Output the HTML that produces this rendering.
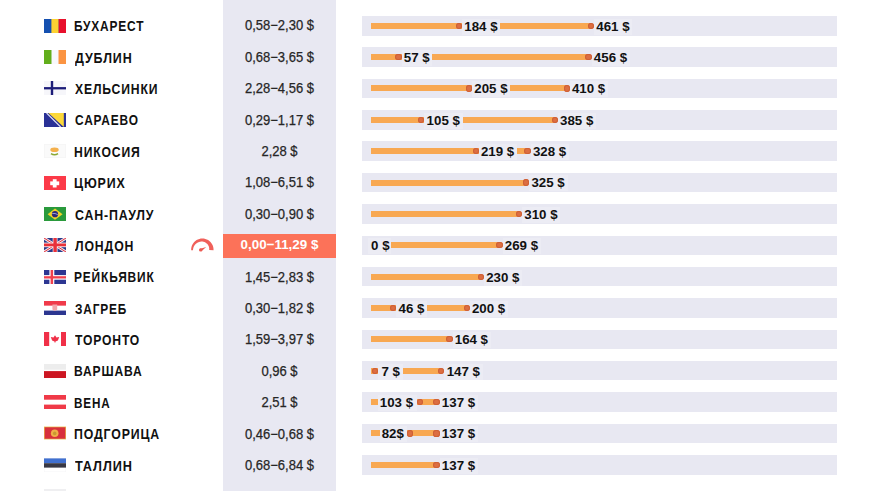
<!DOCTYPE html>
<html><head><meta charset="utf-8"><style>
*{margin:0;padding:0;box-sizing:border-box}
html,body{width:872px;height:491px;overflow:hidden;background:#fff}
body{position:relative;font-family:"Liberation Sans",sans-serif}
.col{position:absolute;left:223px;top:0;width:113px;height:491px;background:#e8e8f2}
.row{position:absolute;left:362px;width:475px;height:19.5px;background:#e8e8f2}
.flag{position:absolute;left:44px;width:22px;height:14px}
.city{position:absolute;left:75px;font-weight:bold;font-size:14.2px;letter-spacing:1.0px;line-height:16px;color:#111;transform:scaleX(0.95);transform-origin:0 0;white-space:nowrap}
.price{position:absolute;left:223px;width:113px;text-align:center;font-size:13.8px;line-height:16px;color:#262626;white-space:nowrap;transform:scaleX(0.942);-webkit-text-stroke:0.25px #262626}
.hl{position:absolute;left:223px;width:113px;height:23.6px;background:#fc7259}
.bar{position:absolute;height:6px;background:#f8a852}
.dot{position:absolute;width:6.2px;height:6.2px;border-radius:50%;background:#dc6e42;box-shadow:inset 0 0 0 1px #cf6036}
.lab{position:absolute;font-weight:bold;font-size:13.3px;line-height:16px;color:#111;background:#ececf4;white-space:nowrap}
</style></head><body>
<div class="col"></div>

<div class="row" style="top:16.00px"></div>
<svg class="flag" style="top:18.75px" viewBox="0 0 22 14"><rect width="22" height="14" fill="#1550b0"/><rect x="7.4" width="7.3" height="14" fill="#fcd232"/><rect x="14.7" width="7.3" height="14" fill="#e8102c"/></svg>
<div class="city" style="left:74.26px;top:18.30px;transform:scaleX(0.839)">БУХАРЕСТ</div>
<div class="price" style="top:18.45px">0,58−2,30 $</div>
<div class="bar" style="left:370.5px;top:22.75px;width:220.47px"></div>
<div class="dot" style="left:455.88px;top:22.65px"></div>
<div class="dot" style="left:587.87px;top:22.65px"></div>
<div class="lab" style="left:462.08px;width:38.28px;top:18.55px;padding-left:2.2px">184 $</div>
<div class="lab" style="left:594.07px;width:38.28px;top:18.55px;padding-left:2.2px">461 $</div>
<div class="row" style="top:47.36px"></div>
<svg class="flag" style="top:50.11px" viewBox="0 0 22 14"><rect width="22" height="14" fill="#f8f8fc"/><rect width="7.5" height="14" fill="#62ae1c"/><rect x="14.5" width="7.5" height="14" fill="#fb9442"/></svg>
<div class="city" style="left:74.88px;top:49.68px;transform:scaleX(0.881)">ДУБЛИН</div>
<div class="price" style="top:49.84px">0,68−3,65 $</div>
<div class="bar" style="left:370.5px;top:54.11px;width:218.08px"></div>
<div class="dot" style="left:395.36px;top:54.01px"></div>
<div class="dot" style="left:585.48px;top:54.01px"></div>
<div class="lab" style="left:401.56px;width:30.88px;top:49.92px;padding-left:2.2px">57 $</div>
<div class="lab" style="left:591.68px;width:38.28px;top:49.92px;padding-left:2.2px">456 $</div>
<div class="row" style="top:78.72px"></div>
<svg class="flag" style="top:81.47px" viewBox="0 0 22 14"><rect width="22" height="14" fill="#f6f6fa"/><rect x="6.8" width="2.4" height="14" fill="#1c1c78"/><rect y="6.1" width="22" height="2.3" fill="#1c1c78"/></svg>
<div class="city" style="left:74.89px;top:81.06px;transform:scaleX(0.857)">ХЕЛЬСИНКИ</div>
<div class="price" style="top:81.24px">2,28−4,56 $</div>
<div class="bar" style="left:370.5px;top:85.47px;width:196.16px"></div>
<div class="dot" style="left:465.88px;top:85.37px"></div>
<div class="dot" style="left:563.56px;top:85.37px"></div>
<div class="lab" style="left:472.08px;width:38.28px;top:81.30px;padding-left:2.2px">205 $</div>
<div class="lab" style="left:569.76px;width:38.28px;top:81.30px;padding-left:2.2px">410 $</div>
<div class="row" style="top:110.08px"></div>
<svg class="flag" style="top:112.83px" viewBox="0 0 22 14"><rect width="22" height="14" fill="#2a3196"/><polygon points="4.4,0 19.8,0 19.8,14" fill="#fcd83a"/><line x1="2.6" y1="0" x2="16.6" y2="14" stroke="#e8e8f8" stroke-width="1.1"/></svg>
<div class="city" style="left:74.68px;top:112.44px;transform:scaleX(0.839)">САРАЕВО</div>
<div class="price" style="top:112.64px">0,29−1,17 $</div>
<div class="bar" style="left:370.5px;top:116.83px;width:184.25px"></div>
<div class="dot" style="left:418.23px;top:116.73px"></div>
<div class="dot" style="left:551.65px;top:116.73px"></div>
<div class="lab" style="left:424.43px;width:38.28px;top:112.67px;padding-left:2.2px">105 $</div>
<div class="lab" style="left:557.85px;width:38.28px;top:112.67px;padding-left:2.2px">385 $</div>
<div class="row" style="top:141.44px"></div>
<svg class="flag" style="top:144.19px" viewBox="0 0 22 14"><rect width="22" height="14" fill="#f4f4f4"/><rect x="0.6" y="0.6" width="20.8" height="12.8" fill="#fafafa"/><ellipse cx="10.5" cy="5.8" rx="4.2" ry="2.3" fill="#f4b04c"/><path d="M7 9.6 Q10.5 12 14 9.6" stroke="#8aa832" stroke-width="1.6" fill="none"/></svg>
<div class="city" style="left:74.24px;top:143.82px;transform:scaleX(0.856)">НИКОСИЯ</div>
<div class="price" style="top:144.03px">2,28 $</div>
<div class="bar" style="left:370.5px;top:148.19px;width:157.09px"></div>
<div class="dot" style="left:472.55px;top:148.09px"></div>
<div class="dot" style="left:524.49px;top:148.09px"></div>
<div class="lab" style="left:478.75px;width:38.28px;top:144.05px;padding-left:2.2px">219 $</div>
<div class="lab" style="left:530.69px;width:38.28px;top:144.05px;padding-left:2.2px">328 $</div>
<div class="row" style="top:172.80px"></div>
<svg class="flag" style="top:175.55px" viewBox="0 0 22 14"><rect width="22" height="14" fill="#fc3a48"/><rect x="8.8" y="3.2" width="3.8" height="8.3" fill="#fff"/><rect x="6.2" y="5.4" width="9" height="3.8" fill="#fff"/></svg>
<div class="city" style="left:74.22px;top:175.20px;transform:scaleX(0.875)">ЦЮРИХ</div>
<div class="price" style="top:175.43px">1,08−6,51 $</div>
<div class="bar" style="left:370.5px;top:179.55px;width:155.66px"></div>
<div class="dot" style="left:523.06px;top:179.45px"></div>
<div class="lab" style="left:529.26px;width:38.28px;top:175.43px;padding-left:2.2px">325 $</div>
<div class="row" style="top:204.16px"></div>
<svg class="flag" style="top:206.91px" viewBox="0 0 22 14"><rect width="22" height="14" fill="#2a9a3c"/><polygon points="11,1.6 18.6,7.2 11,12.8 3.6,7.2" fill="#f2d228"/><circle cx="11" cy="7.2" r="3.1" fill="#2c2a78"/><path d="M8.2 6.6 Q11 5.9 13.8 7.6" stroke="#b8b8e8" stroke-width="0.8" fill="none"/></svg>
<div class="city" style="left:74.66px;top:206.58px;transform:scaleX(0.872)">САН-ПАУЛУ</div>
<div class="price" style="top:206.82px">0,30−0,90 $</div>
<div class="bar" style="left:370.5px;top:210.91px;width:148.51px"></div>
<div class="dot" style="left:515.91px;top:210.81px"></div>
<div class="lab" style="left:522.12px;width:38.28px;top:206.80px;padding-left:2.2px">310 $</div>
<div class="row" style="top:235.52px"></div>
<svg class="flag" style="top:238.27px" viewBox="0 0 22 14"><rect width="22" height="14" fill="#2b3a8a"/><path d="M0 0L22 14M22 0L0 14" stroke="#f4e8ee" stroke-width="2.8"/><path d="M0 0L22 14M22 0L0 14" stroke="#e2303c" stroke-width="1"/><rect x="8.7" width="4.8" height="14" fill="#f8eef0"/><rect y="4.6" width="22" height="4.6" fill="#f8eef0"/><rect x="9.4" width="3.4" height="14" fill="#e8303a"/><rect y="5.5" width="22" height="2.8" fill="#e8303a"/></svg>
<div class="city" style="left:75.10px;top:237.96px;transform:scaleX(0.863)">ЛОНДОН</div>
<div class="hl" style="top:233.97px"></div>
<div class="price" style="top:236.97px;color:#fff;font-weight:bold;font-size:13.6px;transform:scaleX(0.985);-webkit-text-stroke:0">0,00−11,29 $</div>
<svg style="position:absolute;left:190px;top:238.00px" width="24" height="18" viewBox="0 0 24 18"><path d="M1.17 12.29 L1.19 10.77 L1.42 9.28 L1.84 7.82 L2.46 6.44 L3.26 5.16 L4.23 3.99 L5.34 2.97 L6.58 2.10 L7.93 1.41 L9.36 0.91 L10.84 0.60 L12.35 0.50 L13.86 0.60 L15.34 0.91 L16.77 1.41 L18.12 2.10 L19.36 2.97 L20.47 3.99 L21.44 5.16 L22.24 6.44 L22.86 7.82 L23.28 9.28 L23.51 10.77 L23.53 12.29 L19.14 12.06 L19.23 11.13 L19.20 10.18 L19.03 9.23 L18.74 8.30 L18.31 7.41 L17.75 6.57 L17.08 5.81 L16.30 5.13 L15.42 4.56 L14.46 4.10 L13.43 3.78 L12.35 3.60 L11.24 3.57 L10.13 3.69 L9.02 3.96 L7.96 4.39 L6.94 4.96 L6.00 5.68 L5.16 6.52 L4.43 7.49 L3.84 8.56 L3.38 9.71 L3.09 10.93 L2.96 12.19Z" fill="#f0605a"/><path d="M9.6 10.9 L16.2 8.9 L11.4 13.2 Z" fill="#ec5a52"/><circle cx="10.7" cy="11.9" r="1.7" fill="#ec5a52"/></svg>
<div class="bar" style="left:370.5px;top:242.27px;width:128.98px"></div>
<div class="dot" style="left:368.20px;top:242.17px"></div>
<div class="dot" style="left:496.38px;top:242.17px"></div>
<div class="lab" style="left:367.50px;width:23.00px;top:238.17px;padding-left:3.6px">0 $</div>
<div class="lab" style="left:502.58px;width:38.28px;top:238.17px;padding-left:2.2px">269 $</div>
<div class="row" style="top:266.88px"></div>
<svg class="flag" style="top:269.63px" viewBox="0 0 22 14"><rect width="22" height="14" fill="#2c3692"/><rect x="5.4" width="4.9" height="14" fill="#fff"/><rect y="5.1" width="22" height="4.6" fill="#fff"/><rect x="6.6" width="2.5" height="14" fill="#f0404e"/><rect y="6.2" width="22" height="2.3" fill="#f0404e"/></svg>
<div class="city" style="left:74.26px;top:269.34px;transform:scaleX(0.842)">РЕЙКЬЯВИК</div>
<div class="price" style="top:269.61px">1,45−2,83 $</div>
<div class="bar" style="left:370.5px;top:273.63px;width:110.39px"></div>
<div class="dot" style="left:477.79px;top:273.53px"></div>
<div class="lab" style="left:484.00px;width:38.28px;top:269.55px;padding-left:2.2px">230 $</div>
<div class="row" style="top:298.24px"></div>
<svg class="flag" style="top:300.99px" viewBox="0 0 22 14"><rect width="22" height="4.8" fill="#f03a4a"/><rect y="4.8" width="22" height="4.8" fill="#fff"/><rect y="9.6" width="22" height="4.4" fill="#2c3690"/><path d="M8.4 3.4 H13.2 V8.6 Q10.8 11 8.4 8.6 Z" fill="#f2a6aa"/></svg>
<div class="city" style="left:74.68px;top:300.72px;transform:scaleX(0.838)">ЗАГРЕБ</div>
<div class="price" style="top:301.00px">0,30−1,82 $</div>
<div class="bar" style="left:370.5px;top:304.99px;width:96.10px"></div>
<div class="dot" style="left:390.12px;top:304.89px"></div>
<div class="dot" style="left:463.50px;top:304.89px"></div>
<div class="lab" style="left:396.32px;width:30.88px;top:300.93px;padding-left:2.2px">46 $</div>
<div class="lab" style="left:469.70px;width:38.28px;top:300.93px;padding-left:2.2px">200 $</div>
<div class="row" style="top:329.60px"></div>
<svg class="flag" style="top:332.35px" viewBox="0 0 22 14"><rect width="22" height="14" fill="#fff"/><rect width="5.2" height="14" fill="#f03048"/><rect x="17" width="5" height="14" fill="#f03048"/><path d="M11 3.2 L12.5 5.4 L15.2 5 L13.9 8.5 L11.5 9.6 L11.5 10.4 L10.5 10.4 L10.5 9.6 L8.1 8.5 L6.8 5 L9.5 5.4 Z" fill="#f03048"/></svg>
<div class="city" style="left:74.89px;top:332.10px;transform:scaleX(0.854)">ТОРОНТО</div>
<div class="price" style="top:332.40px">1,59−3,97 $</div>
<div class="bar" style="left:370.5px;top:336.35px;width:78.95px"></div>
<div class="dot" style="left:446.35px;top:336.25px"></div>
<div class="lab" style="left:452.55px;width:38.28px;top:332.30px;padding-left:2.2px">164 $</div>
<div class="row" style="top:360.96px"></div>
<svg class="flag" style="top:363.71px" viewBox="0 0 22 14"><rect width="22" height="5.7" fill="#ededed"/><rect y="7.1" width="22" height="6.9" fill="#cc1622"/></svg>
<div class="city" style="left:74.25px;top:363.48px;transform:scaleX(0.852)">ВАРШАВА</div>
<div class="price" style="top:363.79px">0,96 $</div>
<div class="bar" style="left:370.5px;top:367.71px;width:70.85px"></div>
<div class="dot" style="left:371.54px;top:367.61px"></div>
<div class="dot" style="left:438.25px;top:367.61px"></div>
<div class="lab" style="left:377.74px;width:24.99px;top:363.68px;padding-left:3.7px">7 $</div>
<div class="lab" style="left:444.45px;width:38.28px;top:363.68px;padding-left:2.2px">147 $</div>
<div class="row" style="top:392.32px"></div>
<svg class="flag" style="top:395.07px" viewBox="0 0 22 14"><rect width="22" height="14" fill="#f03a48"/><rect y="4.7" width="22" height="4.9" fill="#fff"/></svg>
<div class="city" style="left:74.28px;top:394.86px;transform:scaleX(0.824)">ВЕНА</div>
<div class="price" style="top:395.19px">2,51 $</div>
<div class="bar" style="left:370.5px;top:399.07px;width:66.08px"></div>
<div class="dot" style="left:417.28px;top:398.97px"></div>
<div class="dot" style="left:433.48px;top:398.97px"></div>
<div class="lab" style="left:377.60px;width:39.68px;top:395.05px;padding-left:2.2px">103 $</div>
<div class="lab" style="left:439.68px;width:38.28px;top:395.05px;padding-left:2.2px">137 $</div>
<div class="row" style="top:423.68px"></div>
<svg class="flag" style="top:426.43px" viewBox="0 0 22 14"><rect y="0.6" width="22" height="12.8" fill="#e8b848"/><rect x="0.7" y="1.3" width="20.6" height="11.4" fill="#d8303c"/><circle cx="10.7" cy="7.2" r="3.8" fill="#f0b048"/><circle cx="10.7" cy="7.4" r="1.8" fill="#c89a30"/></svg>
<div class="city" style="left:74.23px;top:426.24px;transform:scaleX(0.867)">ПОДГОРИЦА</div>
<div class="price" style="top:426.58px">0,46−0,68 $</div>
<div class="bar" style="left:370.5px;top:430.43px;width:66.08px"></div>
<div class="dot" style="left:407.27px;top:430.33px"></div>
<div class="dot" style="left:433.48px;top:430.33px"></div>
<div class="lab" style="left:379.50px;width:27.77px;top:426.43px;padding-left:2.2px">82$</div>
<div class="lab" style="left:439.68px;width:38.28px;top:426.43px;padding-left:2.2px">137 $</div>
<div class="row" style="top:455.04px"></div>
<svg class="flag" style="top:457.79px" viewBox="0 0 22 14"><rect width="22" height="14" fill="#f2f2f4"/><rect x="0.4" y="9.6" width="21.2" height="4" fill="#fff"/><rect y="0.4" width="22" height="4.8" fill="#4070d0"/><rect y="5.2" width="22" height="4.4" fill="#383844"/></svg>
<div class="city" style="left:74.88px;top:457.62px;transform:scaleX(0.895)">ТАЛЛИН</div>
<div class="price" style="top:457.98px">0,68−6,84 $</div>
<div class="bar" style="left:370.5px;top:461.79px;width:66.08px"></div>
<div class="dot" style="left:433.48px;top:461.69px"></div>
<div class="lab" style="left:439.68px;width:38.28px;top:457.80px;padding-left:2.2px">137 $</div>
<div style="position:absolute;left:44px;top:489.3px;width:22px;height:2px;background:#efeff1"></div>
</body></html>
